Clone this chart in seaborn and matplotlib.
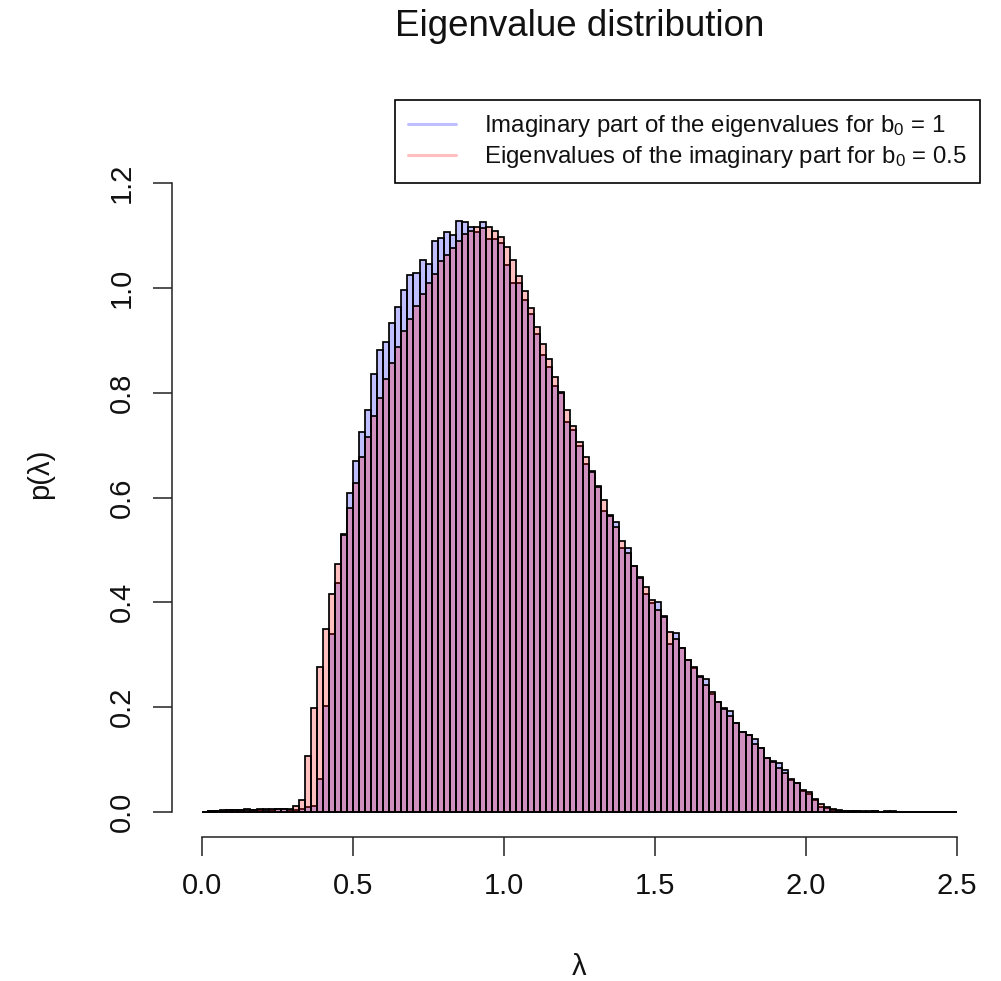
import numpy as np
import pandas as pd
import matplotlib
matplotlib.use("Agg")
import matplotlib.pyplot as plt
import seaborn as sns
from matplotlib.lines import Line2D

# ---- data (densities per bin of width 0.02 from 0 to 2.5) ----
n_bins = 125
x_min, x_max = 0.0, 2.5

density_b1 = [
    0.000, 0.001, 0.002, 0.003, 0.004, 0.003, 0.004, 0.005, 0.004, 0.004,
    0.005, 0.004, 0.006, 0.005, 0.004,
    0.004, 0.006, 0.010, 0.012, 0.063, 0.202, 0.340, 0.437, 0.530, 0.609,
    0.670, 0.725, 0.767, 0.836, 0.882, 0.897, 0.933, 0.963, 0.996, 1.025,
    1.028, 1.054, 1.046, 1.090, 1.095, 1.107, 1.101, 1.128, 1.125, 1.116,
    1.107, 1.126, 1.093, 1.093, 1.086, 1.044, 1.010, 1.010, 0.977, 0.950,
    0.912, 0.872, 0.849, 0.813, 0.802, 0.744, 0.729, 0.698, 0.663, 0.650,
    0.621, 0.574, 0.567, 0.554, 0.504, 0.503, 0.470, 0.448, 0.416, 0.399,
    0.400, 0.373, 0.320, 0.341, 0.313, 0.290, 0.275, 0.259, 0.253, 0.225,
    0.210, 0.198, 0.193, 0.170, 0.153, 0.147, 0.139, 0.122, 0.103, 0.097,
    0.094, 0.080, 0.061, 0.055, 0.040, 0.034, 0.022, 0.010, 0.008, 0.004,
    0.002, 0.001, 0.001, 0.001, 0.000, 0.001, 0.001, 0.000, 0.000, 0.001,
    0.000, 0.000, 0.000, 0.000, 0.000, 0.000, 0.000, 0.000, 0.000, 0.000,
]

density_b05 = [
    0.000, 0.001, 0.002, 0.002, 0.003, 0.004, 0.003, 0.004, 0.004, 0.005,
    0.004, 0.006, 0.005, 0.006, 0.005,
    0.011, 0.023, 0.107, 0.198, 0.277, 0.349, 0.416, 0.473, 0.528, 0.580,
    0.628, 0.678, 0.715, 0.756, 0.790, 0.826, 0.857, 0.887, 0.918, 0.940,
    0.966, 0.988, 1.009, 1.026, 1.051, 1.062, 1.077, 1.090, 1.102, 1.109,
    1.116, 1.114, 1.116, 1.109, 1.097, 1.078, 1.054, 1.022, 0.994, 0.962,
    0.926, 0.893, 0.864, 0.830, 0.800, 0.767, 0.737, 0.706, 0.677, 0.648,
    0.620, 0.595, 0.565, 0.544, 0.517, 0.495, 0.469, 0.447, 0.430, 0.405,
    0.386, 0.372, 0.344, 0.329, 0.312, 0.289, 0.276, 0.258, 0.242, 0.229,
    0.209, 0.197, 0.183, 0.169, 0.152, 0.146, 0.130, 0.121, 0.102, 0.096,
    0.084, 0.075, 0.062, 0.055, 0.041, 0.037, 0.025, 0.015, 0.010, 0.005,
    0.003, 0.002, 0.001, 0.001, 0.001, 0.000, 0.001, 0.000, 0.001, 0.000,
    0.000, 0.000, 0.000, 0.000, 0.000, 0.000, 0.000, 0.000, 0.000, 0.000,
]

x_ticks = [0.0, 0.5, 1.0, 1.5, 2.0, 2.5]
y_ticks = [0.0, 0.2, 0.4, 0.6, 0.8, 1.0, 1.2]

label_b1 = r"Imaginary part of the eigenvalues for b$_0$ = 1"
label_b05 = r"Eigenvalues of the imaginary part for b$_0$ = 0.5"

# ---- build table ----
edges = np.linspace(x_min, x_max, n_bins + 1)
centers = (edges[:-1] + edges[1:]) / 2
df = pd.DataFrame({"lam": centers, "b1": density_b1, "b05": density_b05})

# ---- style ----
sns.set_theme(style="ticks")
plt.rcParams["font.family"] = ["Liberation Sans", "DejaVu Sans"]
plt.rcParams["mathtext.fontset"] = "custom"
plt.rcParams["mathtext.rm"] = "Liberation Sans"
plt.rcParams["mathtext.it"] = "Liberation Sans:italic"
plt.rcParams["mathtext.default"] = "regular"

W, H = 1001, 981
fig = plt.figure(figsize=(W / 100, H / 100), dpi=100)
left, right, top, bottom = 172, 987, 158, 837
ax = fig.add_axes([left / W, 1 - bottom / H, (right - left) / W, (bottom - top) / H])

blue_face = (0, 0, 1, 0.25)
red_face = (1, 0, 0, 0.25)

sns.histplot(data=df, x="lam", weights="b1", bins=n_bins, binrange=(x_min, x_max),
             stat="count", facecolor=blue_face, edgecolor="black",
             linewidth=1.25, ax=ax)
sns.histplot(data=df, x="lam", weights="b05", bins=n_bins, binrange=(x_min, x_max),
             stat="count", facecolor=red_face, edgecolor="black",
             linewidth=1.25, ax=ax)

ax.set_xlim(-0.1, 2.6)
ax.set_ylim(-0.048, 1.248)

ax.set_xticks(x_ticks)
ax.set_xticklabels([f"{v:.1f}" for v in x_ticks])
ax.set_yticks(y_ticks)
ax.set_yticklabels([f"{v:.1f}" for v in y_ticks])

for s in ["top", "right"]:
    ax.spines[s].set_visible(False)
ax.spines["left"].set_bounds(0, 1.2)
ax.spines["bottom"].set_bounds(0, 2.5)
for s in ["left", "bottom"]:
    ax.spines[s].set_linewidth(1.1)
    ax.spines[s].set_color("#222222")

ax.tick_params(axis="both", direction="out", length=14, width=1.1,
               color="#222222", labelsize=21, labelcolor="#111111")
ax.tick_params(axis="x", pad=11)
ax.tick_params(axis="y", pad=12, labelrotation=90)
for lbl in ax.get_yticklabels():
    lbl.set_va("center")

ax.set_xlabel("λ", fontsize=21, color="#111111")
ax.set_ylabel("p(λ)", fontsize=21, color="#111111")
ax.xaxis.label.set_va("center")
ax.yaxis.label.set_va("center")
ax.xaxis.set_label_coords(0.5, -(967 - bottom) / (bottom - top))
ax.yaxis.set_label_coords((40 - left) / (right - left), 0.535)

ax.set_title("Eigenvalue distribution", fontsize=26.5, color="#111111",
             y=(bottom - 27) / (bottom - top), va="center", pad=0)

handles = [Line2D([0], [0], color=blue_face, lw=2.2),
           Line2D([0], [0], color=red_face, lw=2.2)]
leg = fig.legend(handles, [label_b1, label_b05], loc="upper left",
                 bbox_to_anchor=(395 / W, 1 - 100 / H), fontsize=17.3,
                 frameon=True, fancybox=False, framealpha=1,
                 edgecolor="black", borderpad=0.55, labelspacing=0.2,
                 handlelength=2.0, handletextpad=1.15, borderaxespad=0)
leg.get_frame().set_linewidth(1.2)
for t in leg.get_texts():
    t.set_color("#111111")

fig.savefig("out.png", dpi=100)
